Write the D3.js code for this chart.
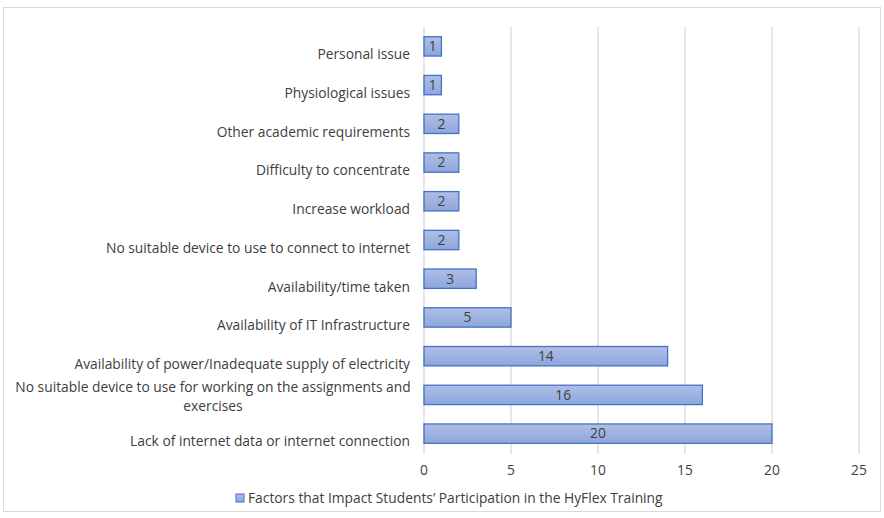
<!DOCTYPE html>
<html><head><meta charset="utf-8">
<script src="https://cdn.jsdelivr.net/npm/d3@7"></script>
<style>body{margin:0;background:#fff}svg{display:block}text{font-family:"Open Sans",Lato,sans-serif;fill:#404040}</style>
</head><body><svg id="c" width="884" height="518"></svg>
<script>
const categories = [
  "Personal issue",
  "Physiological issues",
  "Other academic requirements",
  "Difficulty to concentrate",
  "Increase workload",
  "No suitable device to use to connect to internet",
  "Availability/time taken",
  "Availability of IT Infrastructure",
  "Availability of power/Inadequate supply of electricity",
  "No suitable device to use for working on the assignments and exercises",
  "Lack of internet data or internet connection"
];
const values = [1, 1, 2, 2, 2, 2, 3, 5, 14, 16, 20];
const xTicks = [0, 5, 10, 15, 20, 25];
const seriesName = "Factors that Impact Students\u2019 Participation in the HyFlex Training";

const FS = 13.8;
const svg = d3.select("#c");
const defs = svg.append("defs");
const g = defs.append("linearGradient").attr("id","bg").attr("x1",0).attr("y1",0).attr("x2",0).attr("y2",1);
g.append("stop").attr("offset","0%").attr("stop-color","#aebfe6");
g.append("stop").attr("offset","100%").attr("stop-color","#8ea6dc");

svg.append("rect").attr("x",3.5).attr("y",7.5).attr("width",877).attr("height",504)
  .attr("fill","#fff").attr("stroke","#d9d9d9");

const x = d3.scaleLinear().domain([0,25]).range([424,859]);
const y = d3.scaleBand().domain(categories).range([27,453]).paddingInner(0.5).paddingOuter(0.25);

// gridlines
svg.append("g").selectAll("line").data(xTicks).join("line")
  .attr("x1",d=>x(d)).attr("x2",d=>x(d)).attr("y1",27).attr("y2",454)
  .attr("stroke","#d9d9d9").attr("stroke-width",1.3);

// x tick labels
svg.append("g").selectAll("text").data(xTicks).join("text")
  .attr("x",d=>x(d)).attr("y",470).attr("dy","0.35em").attr("text-anchor","middle")
  .attr("font-size",FS).text(d=>d);

// bars
svg.append("g").selectAll("rect").data(values).join("rect")
  .attr("x",x(0)).attr("y",(d,i)=>y(categories[i]))
  .attr("width",d=>x(d)-x(0)).attr("height",y.bandwidth())
  .attr("fill","url(#bg)").attr("stroke","#4472c4").attr("stroke-width",1.3);

// value labels
svg.append("g").selectAll("text").data(values).join("text")
  .attr("x",d=>(x(d)+x(0))/2).attr("y",(d,i)=>y(categories[i])+y.bandwidth()/2)
  .attr("dy","0.35em").attr("text-anchor","middle").attr("font-size",FS).text(d=>d);

// category labels
const wrapMax = 402;
const lab = svg.append("g");
categories.forEach((c,i)=>{
  const cy = y(c)+y.bandwidth()/2;
  const t = lab.append("text").attr("text-anchor","end").attr("font-size",FS).attr("x",410);
  t.text(c);
  if (t.node().getComputedTextLength() > wrapMax) {
    t.remove();
    const words = c.split(" ");
    let line1 = [], rest = [];
    let tmp = lab.append("text").attr("font-size",FS);
    for (const w of words) {
      tmp.text([...line1,w].join(" "));
      if (rest.length===0 && tmp.node().getComputedTextLength() <= wrapMax) line1.push(w); else rest.push(w);
    }
    tmp.remove();
    lab.append("text").attr("text-anchor","middle").attr("font-size",FS)
      .attr("x",213).attr("y",cy-7.5).attr("dy","0.35em").text(line1.join(" "));
    lab.append("text").attr("text-anchor","middle").attr("font-size",FS)
      .attr("x",213).attr("y",cy+11).attr("dy","0.35em").text(rest.join(" "));
  } else {
    t.attr("y",cy+8).attr("dy","0.35em");
  }
});

// legend
const lg = svg.append("g");
lg.append("rect").attr("x",236).attr("y",494).attr("width",8).attr("height",8)
  .attr("fill","url(#bg)").attr("stroke","#4472c4");
lg.append("text").attr("x",248).attr("y",498).attr("dy","0.35em").attr("font-size",FS).text(seriesName);
</script></body></html>
